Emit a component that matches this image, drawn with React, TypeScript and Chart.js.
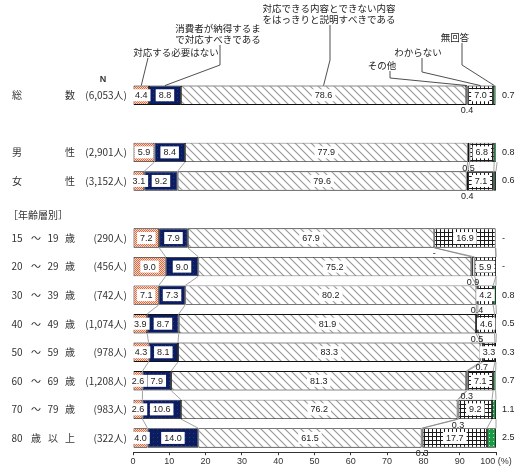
import { useEffect, useRef } from "react";
import { Chart, registerables } from "chart.js";

Chart.register(...registerables);

// 行ラベル（4つの列に分けて配置）
const rowNames = [
  ["総", "", "", "数"],
  ["男", "", "", "性"],
  ["女", "", "", "性"],
  ["15", "～", "19", "歳"],
  ["20", "～", "29", "歳"],
  ["30", "～", "39", "歳"],
  ["40", "～", "49", "歳"],
  ["50", "～", "59", "歳"],
  ["60", "～", "69", "歳"],
  ["70", "～", "79", "歳"],
  ["80", "歳", "以", "上"],
];
const rowCounts = [
  "(6,053人)", "(2,901人)", "(3,152人)", "(290人)", "(456人)", "(742人)",
  "(1,074人)", "(978人)", "(1,208人)", "(983人)", "(322人)",
];
// 行のグループ（グループ間に空行）
const rowGroups = [[0], [1, 2], [3, 4, 5, 6, 7, 8, 9, 10]];

const seriesNames = [
  "対応する必要はない",
  "消費者が納得するまで対応すべきである",
  "対応できる内容とできない内容をはっきりと説明すべきである",
  "その他",
  "わからない",
  "無回答",
];
const notNeeded = [4.4, 5.9, 3.1, 7.2, 9.0, 7.1, 3.9, 4.3, 2.6, 2.6, 4.0];
const untilSatisfied = [8.8, 8.4, 9.2, 7.9, 9.0, 7.3, 8.7, 8.1, 7.9, 10.6, 14.0];
const explainClearly = [78.6, 77.9, 79.6, 67.9, 75.2, 80.2, 81.9, 83.3, 81.3, 76.2, 61.5];
const other = [0.4, 0.5, 0.4, null, 0.9, 0.4, 0.5, 0.7, 0.3, 0.3, 0.3];
const dontKnow = [7.0, 6.8, 7.1, 16.9, 5.9, 4.2, 4.6, 3.3, 7.1, 9.2, 17.7];
const noAnswer = [0.7, 0.8, 0.6, null, null, 0.8, 0.5, 0.3, 0.7, 1.1, 2.5];

const xTicks = [0, 10, 20, 30, 40, 50, 60, 70, 80, 90, 100];

const allSeries = [notNeeded, untilSatisfied, explainClearly, other, dontKnow, noAnswer];

// 上部の引き出し線つき凡例
const callouts = [
  { lines: ["対応する必要はない"], cx: 176, ty: [52], path: [[148, 58]] },
  { lines: ["消費者が納得するま", "で対応すべきである"], cx: 218, ty: [28, 39], path: [[220, 45], [220, 65]] },
  { lines: ["対応できる内容とできない内容", "をはっきりと説明すべきである"], cx: 329, ty: [8, 19], path: [[330, 25], [330, 60]] },
  { lines: ["その他"], cx: 382, ty: [65], path: [[390, 71], [390, 78]] },
  { lines: ["わからない"], cx: 418, ty: [52], path: [[422, 58], [422, 72]] },
  { lines: ["無回答"], cx: 455, ty: [37], path: [[462, 43], [462, 65]] },
];

const CJK = '"Noto Sans CJK JP", sans-serif';
const NUM = '"Liberation Sans", Arial, sans-serif';

function makePattern(w: number, h: number, draw: (c: CanvasRenderingContext2D) => void) {
  const cv = document.createElement("canvas");
  cv.width = w;
  cv.height = h;
  const c = cv.getContext("2d")!;
  draw(c);
  return c.createPattern(cv, "repeat")!;
}

// スロット（空行込み）の組み立て
const slotRows: (number | null)[] = [];
rowGroups.forEach((g, gi) => {
  if (gi > 0) slotRows.push(null);
  g.forEach((r) => slotRows.push(r));
});

export default function App() {
  const canvasRef = useRef<HTMLCanvasElement>(null);
  const chartRef = useRef<Chart | null>(null);

  useEffect(() => {
    document.body.style.margin = "0";

    const salmon = makePattern(2, 2, (c) => {
      c.fillStyle = "#f7d9cc";
      c.fillRect(0, 0, 2, 2);
      c.fillStyle = "#e2673b";
      c.fillRect(0, 0, 1, 1);
      c.fillRect(1, 1, 1, 1);
    });
    const navy = makePattern(4, 4, (c) => {
      c.fillStyle = "#0c1c60";
      c.fillRect(0, 0, 4, 4);
      c.fillStyle = "#24387f";
      c.fillRect(1, 1, 1, 1);
    });
    const hatch = makePattern(8, 8, (c) => {
      c.fillStyle = "#ffffff";
      c.fillRect(0, 0, 8, 8);
      c.strokeStyle = "#9a9a9a";
      c.lineWidth = 1.2;
      c.beginPath();
      c.moveTo(-1, -1);
      c.lineTo(9, 9);
      c.moveTo(-1, 7);
      c.lineTo(1, 9);
      c.moveTo(7, -1);
      c.lineTo(9, 1);
      c.stroke();
    });
    const vlines = makePattern(2, 2, (c) => {
      c.fillStyle = "#ffffff";
      c.fillRect(0, 0, 2, 2);
      c.fillStyle = "#111111";
      c.fillRect(0, 0, 1, 2);
    });
    const grid = makePattern(4, 4, (c) => {
      c.fillStyle = "#ffffff";
      c.fillRect(0, 0, 4, 4);
      c.fillStyle = "#1a1a1a";
      c.fillRect(0, 0, 4, 1);
      c.fillRect(0, 0, 1, 4);
    });
    const green = makePattern(4, 4, (c) => {
      c.fillStyle = "#1c9a45";
      c.fillRect(0, 0, 4, 4);
      c.fillStyle = "#bfe8c9";
      c.fillRect(1, 1, 1, 1);
    });
    const fills = [salmon, navy, hatch, vlines, grid, green];

    const labels = slotRows.map((r) => (r === null ? "" : rowNames[r].join("")));

    const overlay = {
      id: "overlay",
      afterDatasetsDraw(chart: any) {
        const ctx: CanvasRenderingContext2D = chart.ctx;
        const area = chart.chartArea;
        const yScale = chart.scales.y;
        const el = (d: number, slot: number) => chart.getDatasetMeta(d).data[slot] as any;
        const slotOf = (r: number) => slotRows.indexOf(r);

        ctx.save();

        // グループ内の行間をつなぐ線
        ctx.strokeStyle = "#7a7a7a";
        ctx.lineWidth = 0.7;
        rowGroups.forEach((g) => {
          for (let i = 0; i < g.length - 1; i++) {
            const a = slotOf(g[i]);
            const b = slotOf(g[i + 1]);
            for (let d = 0; d < allSeries.length; d++) {
              const ea = el(d, a);
              const eb = el(d, b);
              ctx.beginPath();
              ctx.moveTo(ea.x, ea.y + ea.height / 2);
              ctx.lineTo(eb.x, eb.y - eb.height / 2);
              ctx.stroke();
            }
          }
        });

        // 値ラベル
        ctx.font = `9px ${NUM}`;
        ctx.textBaseline = "middle";
        slotRows.forEach((r, slot) => {
          if (r === null) return;
          allSeries.forEach((s, d) => {
            const v = s[r];
            const e = el(d, slot);
            const txt = v === null ? "-" : v.toFixed(1);
            const cx = (e.x + e.base) / 2;
            if (d === 3) {
              ctx.fillStyle = "#222";
              ctx.textAlign = "center";
              ctx.fillText(txt, cx, e.y + e.height / 2 + 6);
            } else if (d === 5) {
              ctx.fillStyle = "#222";
              ctx.textAlign = "left";
              ctx.fillText(txt, area.right + 6, e.y);
            } else {
              const w = ctx.measureText(txt).width + 6;
              ctx.fillStyle = "#ffffff";
              ctx.fillRect(cx - w / 2, e.y - 6, w, 12);
              ctx.fillStyle = "#222";
              ctx.textAlign = "center";
              ctx.fillText(txt, cx, e.y + 0.5);
            }
          });
        });

        // 行ラベル
        const cols = [17, 36, 53, 70];
        ctx.fillStyle = "#333";
        slotRows.forEach((r, slot) => {
          if (r === null) return;
          const y = yScale.getPixelForValue(slot);
          ctx.font = `10px ${CJK}`;
          ctx.textAlign = "center";
          rowNames[r].forEach((p, i) => {
            if (p) ctx.fillText(p, cols[i], y);
          });
          ctx.textAlign = "right";
          ctx.fillText(rowCounts[r], 127, y);
        });
        ctx.textAlign = "left";
        ctx.font = `10px ${CJK}`;
        ctx.fillText("［年齢層別］", 8, 215);
        ctx.font = `bold 9px ${NUM}`;
        ctx.textAlign = "center";
        ctx.fillText("N", 103, 80);

        // 引き出し線つき凡例
        ctx.font = `9.5px ${CJK}`;
        ctx.strokeStyle = "#222";
        ctx.lineWidth = 0.8;
        const s0 = slotOf(0);
        callouts.forEach((c, d) => {
          ctx.fillStyle = "#222";
          ctx.textAlign = "center";
          c.lines.forEach((ln, i) => ctx.fillText(ln, c.cx, c.ty[i]));
          const e = el(d, s0);
          const tx = (e.x + e.base) / 2;
          const ty = e.y - e.height / 2;
          ctx.beginPath();
          ctx.moveTo(c.path[0][0], c.path[0][1]);
          c.path.slice(1).forEach((p) => ctx.lineTo(p[0], p[1]));
          ctx.lineTo(tx, ty);
          ctx.stroke();
        });

        ctx.restore();
      },
    };

    chartRef.current = new Chart(canvasRef.current!, {
      type: "bar",
      data: {
        labels,
        datasets: allSeries.map((s, d) => ({
          label: seriesNames[d],
          data: slotRows.map((r) => (r === null ? null : s[r] ?? 0)),
          backgroundColor: fills[d],
          borderColor: "#111",
          borderWidth: 0.9,
          borderSkipped: false,
          barPercentage: 0.68,
          categoryPercentage: 1,
        })),
      },
      options: {
        indexAxis: "y",
        animation: false,
        responsive: false,
        layout: { padding: { left: 133, right: 33, top: 81, bottom: 8 } },
        plugins: { legend: { display: false }, tooltip: { enabled: false } },
        scales: {
          x: {
            stacked: true,
            min: 0,
            max: 100,
            afterBuildTicks: (axis: any) => {
              axis.ticks = xTicks.map((v) => ({ value: v }));
            },
            ticks: {
              font: { size: 9, family: NUM },
              color: "#333",
              padding: 1,
              maxRotation: 0,
              callback: (v: any) => (v === 100 ? "100 (%)" : String(v)),
            },
            grid: { drawOnChartArea: false, drawTicks: true, tickLength: 3, color: "#333" },
            border: { display: true, color: "#333", width: 1 },
          },
          y: { stacked: true, display: false },
        },
      },
      plugins: [overlay],
    });

    return () => chartRef.current?.destroy();
  }, []);

  return (
    <div style={{ width: 529, height: 476 }}>
      <canvas ref={canvasRef} width={529} height={476} />
    </div>
  );
}
